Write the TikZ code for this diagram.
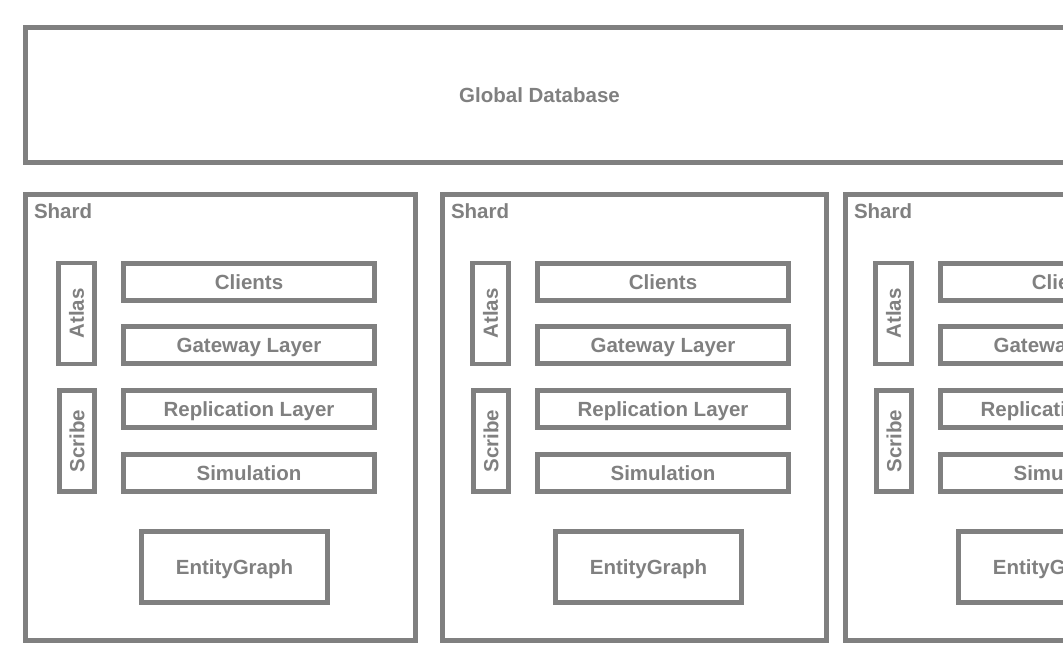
\documentclass[tikz,border=0pt]{standalone}
\usepackage{fontspec}
\setmainfont{Liberation Sans}
\usetikzlibrary{positioning}
\definecolor{boxgray}{RGB}{128,128,128}

\tikzset{
  boxtext/.style={text=boxgray,font=\bfseries\fontsize{20.5}{24}\selectfont,
                  text height=14.7pt,text depth=0pt},
  layer/.style={boxtext,draw=boxgray,line width=4.7pt,inner sep=0pt,
                minimum width=251.3pt,minimum height=37.3pt},
  sidebox/.style={layer,rotate=90,minimum width=100.8pt,minimum height=36.3pt},
  framebox/.style={draw=boxgray,line width=4.7pt,inner sep=0pt}
}

\begin{document}
\begin{tikzpicture}[x=1pt,y=-1pt]
  \useasboundingbox (0,0) rectangle (1063,669);
  \clip (0,0) rectangle (1063,669);
  % global database across the top
  \node[framebox,anchor=north west,minimum width=1200pt,minimum height=135.3pt]
    (globaldb) at (23,25) {};
  \node[boxtext] (globallabel) at (539.5,95) {Global Database};
  % one shard per column
  \foreach \n/\L/\R/\A in {1/23/418/56, 2/440/829/470, 3/843/1238/873}{
    \node[framebox,minimum width={(\R-\L)*1pt-4.7pt},minimum height=446.3pt]
      (shard\n) at ({(\L+\R)/2},417.5) {};
    \node[boxtext,anchor=base west,text height=,text depth=] (title\n) at (\L+7.5,218.5) {Shard};
    \node[sidebox] (atlas\n) at (\A+20.5,313.5) {Atlas};
    \node[sidebox,minimum width=101.3pt,minimum height=35.3pt] (scribe\n) at (\A+21,441) {Scribe};
    \node[layer] (clients\n) at (\A+193,282) {Clients};
    \node[layer] (gateway\n) at (\A+193,345) {Gateway Layer};
    \node[layer] (replication\n) at (\A+193,409) {Replication Layer};
    \node[layer] (simulation\n) at (\A+193,473) {Simulation};
    \node[layer,minimum width=186.3pt,minimum height=71.3pt] (entity\n) at (\A+178.5,567) {EntityGraph};
  }
\end{tikzpicture}
\end{document}
